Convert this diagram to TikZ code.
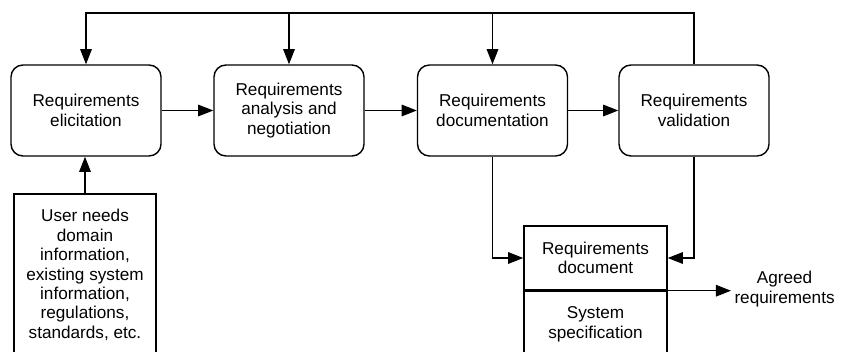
\documentclass[tikz,border=0pt]{standalone}
\usepackage{fontspec}
\setmainfont{Liberation Sans}
\usetikzlibrary{arrows.meta,positioning}

\begin{document}
\begin{tikzpicture}
  [x=0.025cm, y=0.025cm, line width=1pt,
   every node/.style={font=\fontsize{12.2}{13.8}\selectfont, align=center},
   stage/.style={draw, rounded corners=0.3cm, minimum width=3.75cm, minimum height=2.275cm},
   doc/.style={draw, minimum width=3.575cm, inner sep=0pt},
   arr/.style={-{Triangle[length=0.38cm, width=0.29cm]}}]
  \useasboundingbox (0,0) rectangle (843,351);

  \node[stage] (elic) at (86,240.5)    {Requirements\\elicitation};
  \node[stage] (anal) at (289,240.5)   {Requirements\\analysis and\\negotiation};
  \node[stage] (docu) at (492.5,240.5) {Requirements\\documentation};
  \node[stage] (val)  at (694,240.5)   {Requirements\\validation};

  \node[draw, minimum width=3.55cm, minimum height=4.05cm] (input) at (85,76)
    {User needs\\domain\\information,\\existing system\\information,\\regulations,\\standards, etc.};

  \node[doc, minimum height=1.6cm] (docA) at (595.5,93) {Requirements\\document};
  \node[doc, minimum height=1.65cm, below=0pt of docA] (docB) {System\\specification};
  \node[inner sep=2pt, anchor=west] (agreed) at (731,62) {Agreed\\requirements};

  \draw[arr] (elic) -- (anal);
  \draw[arr] (anal) -- (docu);
  \draw[arr] (docu) -- (val);

  % feedback from validation
  \coordinate (top) at (86,338);
  \draw[arr] (val.north) |- (top) -- (elic.north);
  \draw[arr] (anal.north |- top) -- (anal.north);
  \draw[arr] (docu.north |- top) -- (docu.north);

  \draw[arr] (input.north) -- (input.north |- elic.south);
  \draw[arr] (docu.south) |- (docA.west);
  \draw[arr] (val.south) |- (docA.east);
  \draw[arr] (docA.south east) -- (agreed.west |- docA.south east);

\end{tikzpicture}
\end{document}
